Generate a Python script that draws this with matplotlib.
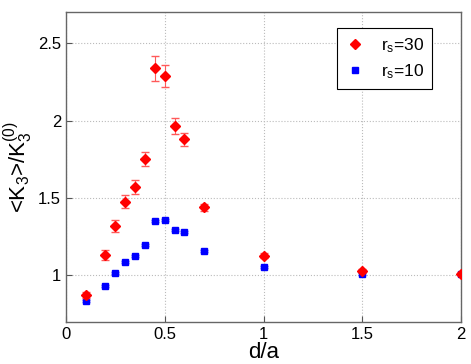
import numpy as np
import matplotlib.pyplot as plt
from matplotlib.lines import Line2D

plt.rcParams['font.family'] = ['Liberation Sans', 'DejaVu Sans']
plt.rcParams['mathtext.default'] = 'regular'

# data
d = [0.1, 0.2, 0.25, 0.3, 0.35, 0.4, 0.45, 0.5, 0.55, 0.6, 0.7, 1.0, 1.5, 2.0]
k30 = [0.872, 1.132, 1.321, 1.476, 1.571, 1.752, 2.337, 2.287, 1.965, 1.879, 1.44, 1.128, 1.03, 1.01]
err30 = [0.02, 0.032, 0.04, 0.042, 0.043, 0.047, 0.082, 0.072, 0.054, 0.043, 0.021, 0.015, 0.01, 0.01]
k10 = [0.835, 0.934, 1.018, 1.087, 1.128, 1.199, 1.354, 1.356, 1.292, 1.279, 1.158, 1.055, 1.012, 1.008]
err10 = [0.006, 0.006, 0.006, 0.006, 0.006, 0.006, 0.006, 0.006, 0.006, 0.006, 0.006, 0.006, 0.006, 0.006]

fig = plt.figure(figsize=(4.71, 3.64), dpi=100)
ax = fig.add_axes([0.140, 0.1154, 0.839, 0.8516])

ax.errorbar(d, k10, yerr=err10, fmt='s', color='#0000ff', ms=5, mec='#0000ff',
            ecolor='#6a6aff', elinewidth=0.8, capsize=3, zorder=3)
ax.errorbar(d, k30, yerr=err30, fmt='D', color='#ff0000', ms=5, mec='#ff0000',
            ecolor='#ff5a5a', elinewidth=0.8, capsize=3, zorder=4)

ax.set_xlim(0, 2)
ax.set_ylim(0.7, 2.7)
ax.set_xticks([0, 0.5, 1, 1.5, 2])
ax.set_xticklabels(['0', '0.5', '1', '1.5', '2'])
ax.set_yticks([1, 1.5, 2, 2.5])
ax.set_yticklabels(['1', '1.5', '2', '2.5'])
ax.tick_params(direction='in', labelsize=12, length=4, color='#555555')
ax.grid(True, ls=':', color='#bbbbbb', lw=0.8)
for s in ax.spines.values():
    s.set_color('#666666')
    s.set_linewidth(1.0)

ax.set_xlabel('d/a', fontsize=16, labelpad=0)
ax.set_ylabel('<K$_3$>/K$_3^{(0)}$', fontsize=16, labelpad=2)

handles = [Line2D([], [], ls='none', marker='D', color='#ff0000', ms=5),
           Line2D([], [], ls='none', marker='s', color='#0000ff', ms=4.5)]
leg = ax.legend(handles, ['r$_s$=30', 'r$_s$=10'], loc='upper left',
                bbox_to_anchor=(0.686, 0.948), fontsize=12.5, fancybox=False,
                edgecolor='black', framealpha=1, handlelength=1.2,
                handletextpad=0.9, borderpad=0.45, labelspacing=0.45,
                borderaxespad=0)
leg.get_frame().set_linewidth(0.8)

fig.savefig('out.png', dpi=100)
